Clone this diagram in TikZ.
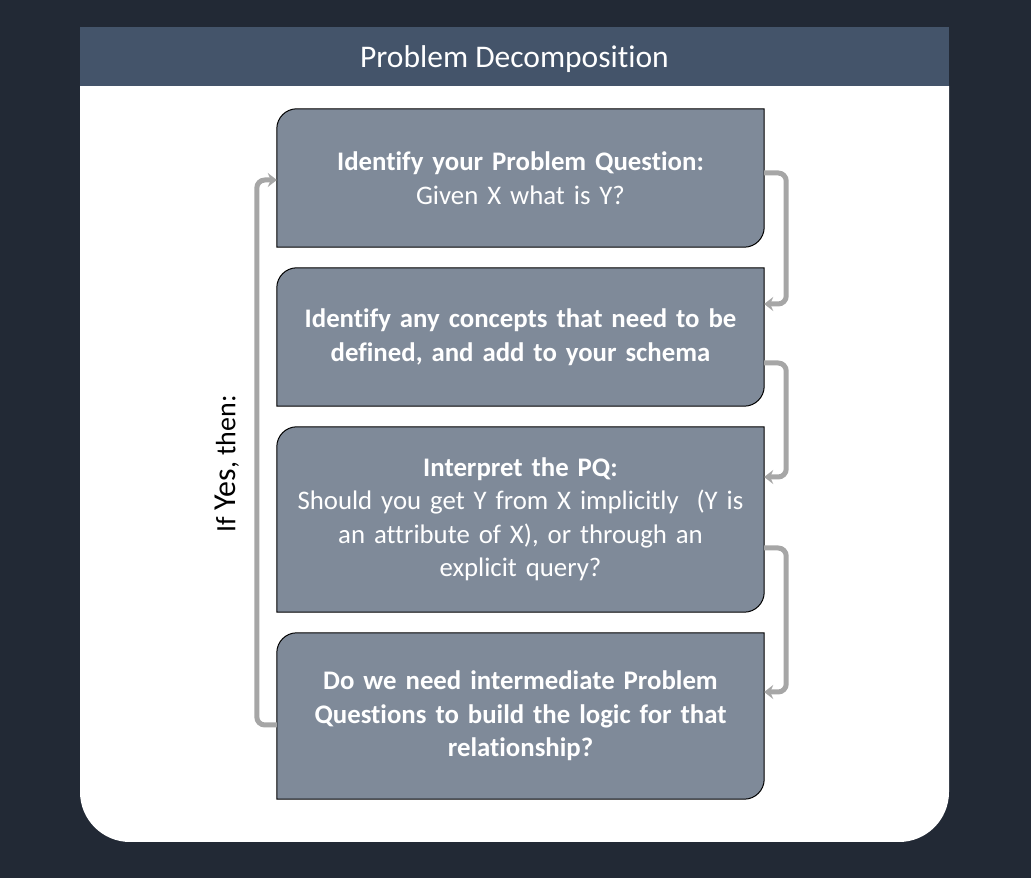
\documentclass[tikz,border=0pt]{standalone}
\usepackage{fontspec}
\setmainfont{Carlito}[Ligatures={NoCommon}]
\usetikzlibrary{arrows.meta,calc,backgrounds}
\definecolor{pagebg}{HTML}{222935}
\definecolor{headbg}{HTML}{44546A}
\definecolor{boxfill}{HTML}{7F8A99}
\definecolor{conngray}{HTML}{A6A6A6}
\pgfdeclarelayer{shapes}
\pgfsetlayers{background,shapes,main}
\newcommand\pqshape[1]{%
  \begin{pgfonlayer}{shapes}
    \path[shapeline] ([yshift=-20pt]#1.north west) arc[start angle=180,end angle=90,radius=20pt]
      -- (#1.north east) -- ([yshift=20pt]#1.south east) arc[start angle=0,end angle=-90,radius=20pt]
      -- (#1.south west) -- cycle;
  \end{pgfonlayer}}
\begin{document}
\begin{tikzpicture}[x=1pt,y=1pt,
  pq/.style={minimum width=487pt, inner sep=0pt, text=white, align=center,
    font=\fontsize{26.8}{33.5}\selectfont, text width=480pt},
  conn/.style={draw=conngray, line width=5pt, rounded corners=8pt,
    -{Stealth[length=9pt,width=14pt,inset=3pt]}},
  shapeline/.style={fill=boxfill, draw=black, line width=1pt}]
\useasboundingbox (0,0) rectangle (1031,878);
\begin{pgfonlayer}{background}
  \fill[pagebg] (0,0) rectangle (1031,878);
  \fill[white] (80,792) -- (80,86) arc[start angle=180,end angle=270,radius=50pt]
    -- (899,36) arc[start angle=270,end angle=360,radius=50pt] -- (949,792) -- cycle;
  \fill[headbg] (80,792) rectangle (949,851);
\end{pgfonlayer}
\node[text=white, font=\fontsize{31.5}{38}\selectfont] (title) at (514.5,819) {Problem Decomposition};

\node[pq, minimum height=138pt] (b1) at (520.5,700) {\textbf{Identify your Problem Question:}\\ Given X what is Y?};
\node[pq, minimum height=138pt] (b2) at (520.5,541) {\textbf{Identify any concepts that need to be}\\ \textbf{defined, and add to your schema}};
\node[pq, minimum height=185pt] (b3) at (520.5,358.5) {\textbf{Interpret the PQ:}\\ Should you get Y from X implicitly~ (Y is\\ an attribute of X), or through an\\ explicit query?};
\node[pq, minimum height=166pt] (b4) at (520.5,162) {\textbf{Do we need intermediate Problem}\\ \textbf{Questions to build the logic for that}\\ \textbf{relationship?}};
\pqshape{b1}\pqshape{b2}\pqshape{b3}\pqshape{b4}

\draw[conn] ([yshift=5pt]b1.east) -- ++(22,0) |- ([yshift=33pt]b2.east);
\draw[conn] ([yshift=-26pt]b2.east) -- ++(22,0) |- ([yshift=42.5pt]b3.east);
\draw[conn] ([yshift=-28.5pt]b3.east) -- ++(22,0) |- ([yshift=24pt]b4.east);
\draw[conn] ([yshift=-9pt]b4.west) -- ++(-20,0) |- ([yshift=-2pt]b1.west);

\node[rotate=90, font=\fontsize{28}{33}\selectfont] (ifyes) at (227,414) {If {\fontsize{32}{38}\selectfont Yes}, then:};
\end{tikzpicture}
\end{document}
